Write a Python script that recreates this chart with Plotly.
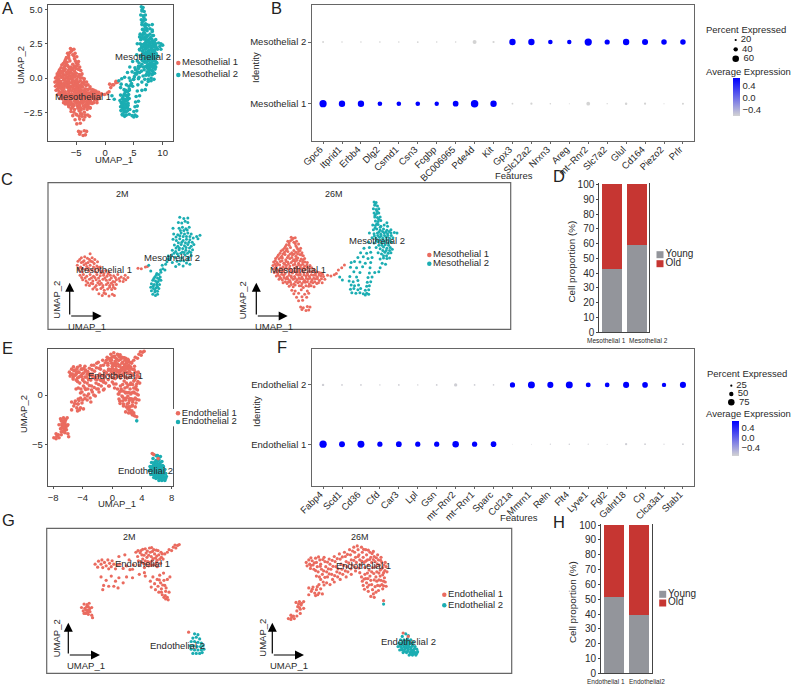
import plotly.graph_objects as go

W, H = 792, 685
RED = "#EA6B5F"
TEAL = "#1BADB2"
GREY_BAR = "#93959B"
RED_BAR = "#C63632"
INK = "#2a2a2a"
FRAME = "#666666"
FONT = "Liberation Sans"

# ---- UMAP cell coordinates, mesothelial ----
meso1_2m = [(-6.3,0.8),(-7.6,0.45),(-7.1,0.55),(-6.7,0.4),(-6.0,0.45),(-5.6,0.3),(-8.1,0.15),(-7.6,0.05),(-7.2,0.2),(-6.6,0.05),(-6.2,0.15),(-5.7,-0.05),(-5.2,0.1),
(-8.2,-0.2),(-7.7,-0.35),(-7.2,-0.15),(-6.8,-0.3),(-6.3,-0.2),(-5.8,-0.35),(-5.3,-0.25),(-4.8,-0.35),(-8.0,-0.6),(-7.5,-0.75),(-7.0,-0.55),(-6.5,-0.7),(-6.0,-0.6),(-5.5,-0.75),(-5.0,-0.6),(-4.5,-0.7),(-4.0,-0.65),(-3.5,-0.8),
(-7.8,-1.05),(-7.3,-1.0),(-6.8,-1.15),(-6.3,-1.0),(-5.8,-1.15),(-5.3,-1.0),(-4.8,-1.1),(-4.3,-1.05),(-3.8,-1.15),(-3.3,-1.05),(-2.8,-1.1),(-2.2,-1.0),(-1.7,-1.2),(-1.1,-1.05),(-0.7,-1.25),
(-7.4,-1.45),(-6.9,-1.55),(-6.4,-1.4),(-5.9,-1.55),(-5.4,-1.45),(-4.9,-1.55),(-4.4,-1.4),(-3.9,-1.5),(-3.4,-1.45),(-2.9,-1.6),(-2.4,-1.45),(-1.9,-1.55),(-1.4,-1.6),(-1.0,-1.45),
(-6.9,-1.9),(-6.4,-1.95),(-5.9,-1.8),(-5.4,-1.95),(-4.9,-1.85),(-4.4,-1.95),(-3.9,-1.85),(-3.4,-1.95),(-2.9,-1.9),(-2.4,-1.85),
(-5.9,-2.25),(-5.3,-2.3),(-4.7,-2.2),(-4.2,-2.35),(-3.7,-2.25),(-3.1,-2.3),(-2.6,-2.2),
(-5.0,-2.65),(-4.5,-2.8),(-4.0,-2.65),(-3.5,-2.85),(-3.0,-2.7),(-2.7,-2.8),(0.8,-0.45),(1.3,-0.5),(1.9,-0.35),(2.2,-0.3),
(-7.85,0.3),(-7.35,0.1),(-6.4,0.3),(-6.9,-0.05),(-5.95,0.1),(-7.95,-0.45),(-7.45,-0.5),(-6.55,-0.45),(-5.55,-0.5),(-5.1,-0.4),(-4.25,-0.9),(-4.7,-0.85),(-3.65,-0.95),(-7.55,-1.25),(-7.05,-1.3),(-6.1,-1.3),(-5.6,-1.25),(-5.05,-1.3),(-4.1,-1.3),(-3.15,-1.3),(-2.55,-1.25),(-2.0,-1.35),(-1.3,-1.35),(-6.65,-1.7),(-6.15,-1.75),(-5.15,-1.7),(-4.65,-1.75),(-3.65,-1.7),(-3.15,-1.75),(-2.65,-1.65),(-5.6,-2.1),(-4.45,-2.1),(-3.4,-2.1),(-2.85,-2.1),(-4.25,-2.6)]

meso1_26m = [(-6.0,2.15),(-5.7,2.05),(-5.4,2.1),(-6.5,1.8),(-6.1,1.85),(-5.6,1.7),(-5.2,1.8),(-6.7,1.5),(-6.3,1.45),(-5.3,1.4),(-4.9,1.55),(-7.0,1.2),(-6.6,1.15),(-6.1,1.25),(-5.0,1.1),(-4.6,1.2),
(-7.5,0.95),(-7.0,0.85),(-6.5,0.9),(-5.9,0.8),(-5.3,0.85),(-4.9,0.9),(-4.4,0.8),(-7.9,0.6),(-7.4,0.5),(-6.9,0.65),(-6.4,0.55),(-5.8,0.6),(-5.3,0.5),(-4.7,0.65),(-4.2,0.55),
(-8.3,0.3),(-7.8,0.25),(-7.3,0.35),(-6.8,0.2),(-6.2,0.3),(-5.6,0.2),(-5.0,0.35),(-4.5,0.25),(-4.0,0.3),
(-8.6,0.0),(-8.1,-0.05),(-7.6,0.05),(-7.1,-0.1),(-6.5,0.0),(-6.0,-0.05),(-5.4,0.05),(-4.9,-0.1),(-4.3,0.0),(-3.6,-0.05),
(-8.7,-0.3),(-8.2,-0.35),(-7.7,-0.25),(-7.2,-0.4),(-6.7,-0.3),(-6.2,-0.35),(-5.7,-0.25),(-5.2,-0.4),(-4.6,-0.3),(-4.0,-0.35),(-3.2,-0.3),
(-8.6,-0.6),(-8.1,-0.65),(-7.6,-0.55),(-7.1,-0.7),(-6.5,-0.6),(-6.0,-0.65),(-5.5,-0.55),(-4.9,-0.7),(-4.4,-0.6),(-3.9,-0.65),(-3.3,-0.55),(-2.6,-0.65),
(-8.5,-0.9),(-8.0,-0.95),(-7.4,-0.85),(-6.9,-1.0),(-6.3,-0.9),(-5.8,-0.95),(-5.2,-0.85),(-4.7,-1.0),(-4.1,-0.9),(-3.6,-0.95),(-3.0,-0.85),(-2.4,-1.0),(-1.9,-0.9),
(-8.2,-1.2),(-7.7,-1.25),(-7.1,-1.15),(-6.6,-1.3),(-6.0,-1.2),(-5.5,-1.25),(-4.9,-1.15),(-4.4,-1.3),(-3.8,-1.2),(-3.3,-1.25),(-2.7,-1.15),(-2.1,-1.3),(-1.6,-1.2),(-1.2,-1.25),(-0.6,-1.15),(-0.1,-1.2),(0.4,-1.1),
(-7.8,-1.5),(-7.3,-1.55),(-6.8,-1.45),(-6.2,-1.6),(-5.7,-1.5),(-5.1,-1.55),(-4.6,-1.45),(-4.0,-1.6),(-3.5,-1.5),(-2.9,-1.55),(-2.4,-1.45),(-1.8,-1.6),(-1.0,-1.5),
(-7.2,-1.8),(-6.6,-1.85),(-6.1,-1.75),(-5.6,-1.9),(-5.0,-1.8),(-4.4,-1.85),(-3.9,-1.75),(-3.3,-1.9),(-2.8,-1.8),(-2.2,-1.85),(-1.4,-1.8),
(-6.3,-2.1),(-5.7,-2.15),(-4.8,-2.05),(-4.2,-2.2),(-3.4,-2.1),(-2.6,-2.15),(-5.9,-2.45),(-5.4,-2.5),(-4.5,-2.4),(-3.6,-2.5),
(-5.6,-2.75),(-4.9,-2.7),(-4.0,-2.8),(-3.4,-2.7),(-5.2,-3.05),(-4.4,-3.0),(-3.7,-3.05),(-4.9,-3.35),(-4.3,-3.3),
(-4.6,-3.9),(-4.2,-3.95),(-3.6,-3.85),(-3.2,-3.9),(-4.4,-4.1),(-3.8,-4.2),(-3.4,-4.15),
(0.7,-1.0),(1.0,-0.7),(1.5,-0.5),(1.9,-0.25),
(-5.85,1.95),(-6.3,1.65),(-5.4,1.6),(-6.85,1.35),(-5.15,1.25),(-7.25,1.05),(-6.75,1.0),(-5.6,1.0),(-4.7,1.0),(-7.65,0.75),(-7.2,0.7),(-6.15,0.7),(-5.55,0.7),(-5.05,0.7),(-4.45,0.6),(-8.05,0.45),(-7.55,0.4),(-6.55,0.4),(-5.9,0.4),(-5.25,0.3),(-4.2,0.2),(-8.35,0.1),(-7.35,0.1),(-6.75,0.05),(-5.75,0.1),(-5.15,0.15),(-4.65,0.1),(-3.95,0.0),(-8.4,-0.2),(-7.95,-0.2),(-6.95,-0.2),(-6.4,-0.15),(-5.45,-0.2),(-4.9,-0.25),(-4.3,-0.2),(-3.65,-0.25),(-8.35,-0.5),(-7.4,-0.55),(-6.8,-0.5),(-6.25,-0.55),(-5.2,-0.55),(-4.65,-0.5),(-4.15,-0.5),(-3.6,-0.45),(-2.95,-0.5),(-8.25,-0.8),(-7.75,-0.75),(-7.15,-0.8),(-6.05,-0.8),(-5.5,-0.8),(-4.95,-0.85),(-4.35,-0.8),(-3.3,-0.8),(-2.7,-0.8),(-2.2,-0.85),(-1.6,-0.95),(-7.95,-1.1),(-7.4,-1.05),(-6.3,-1.15),(-5.2,-1.05),(-4.65,-1.1),(-4.1,-1.1),(-3.55,-1.1),(-3.0,-1.1),(-2.4,-1.15),(-1.85,-1.1),(-1.35,-1.05),(-7.55,-1.4),(-7.05,-1.35),(-6.5,-1.45),(-5.95,-1.35),(-5.4,-1.4),(-4.85,-1.4),(-4.3,-1.45),(-3.75,-1.4),(-3.2,-1.4),(-2.65,-1.4),(-2.1,-1.45),(-1.5,-1.45),(-6.85,-1.7),(-6.4,-1.7),(-5.35,-1.7),(-4.75,-1.7),(-4.15,-1.7),(-3.6,-1.7),(-3.05,-1.7),(-2.5,-1.7),(-1.95,-1.8),(-6.0,-1.95),(-5.4,-2.0),(-4.5,-2.05),(-3.8,-2.05),(-3.05,-2.05)]

meso2_2m = [(3.6,-0.9),(3.9,-1.0),(3.3,-1.2),(3.7,-1.3),(4.1,-1.2),(3.0,-1.5),(3.4,-1.55),(3.8,-1.6),(4.2,-1.5),(2.8,-1.8),(3.2,-1.85),(3.6,-1.9),(4.0,-1.85),(2.7,-2.1),(3.1,-2.2),(3.5,-2.15),(3.9,-2.2),(2.8,-2.4),(3.3,-2.5),(3.7,-2.45),(3.0,-2.7),(3.4,-2.8),(3.7,-2.7),
(4.2,-0.8),(4.5,-0.5),(4.8,-0.6),(4.4,-0.2),(4.9,-0.1),(2.7,-0.7),(2.4,-0.2),
(5.1,0.1),(5.5,0.3),(5.9,0.05),(6.4,-0.3),(6.9,-0.1),(7.5,-0.25),(8.0,0.0),(8.5,-0.1),(5.3,0.6),(5.8,0.7),(6.3,0.5),(6.8,0.6),(7.3,0.45),(7.8,0.7),(8.3,0.5),(8.7,0.65),
(5.9,1.1),(6.4,1.0),(6.9,1.15),(7.4,0.95),(7.9,1.1),(8.4,1.0),(8.9,1.15),(6.2,1.55),(6.7,1.45),(7.2,1.6),(7.7,1.5),(8.2,1.6),(8.7,1.45),(9.1,1.6),
(6.0,2.05),(6.5,1.95),(7.0,2.1),(7.5,1.95),(8.0,2.05),(8.5,2.0),(9.0,2.15),(9.5,2.3),(10.0,2.4),(9.7,2.1),
(6.1,2.5),(6.7,2.45),(7.2,2.6),(7.7,2.5),(8.2,2.6),(8.7,2.5),(6.0,3.0),(6.9,3.0),(7.4,3.1),(7.9,2.95),(8.4,3.1),(6.8,3.5),(7.3,3.45),(7.8,3.6),(8.2,3.5),(7.0,3.95),(7.6,3.85),(8.2,3.9),
(3.5,-1.05),(3.15,-1.35),(3.95,-1.4),(3.6,-1.7),(3.05,-2.0),(3.7,-2.05),(3.35,-2.35),(4.15,-0.6),(5.2,0.35),(5.65,0.45),(6.6,0.15),(7.1,0.2),(7.6,0.2),(8.2,0.25),(6.15,0.85),(6.65,0.8),(7.15,0.85),(7.65,0.9),(8.15,0.85),(8.65,0.9),(6.45,1.3),(6.95,1.3),(7.45,1.25),(7.95,1.35),(8.45,1.3),(6.8,1.75),(7.3,1.8),(7.85,1.75),(8.35,1.8),(8.85,1.8),(6.45,2.25),(7.0,2.35),(7.5,2.3),(8.0,2.3),(8.5,2.3),(7.1,2.8),(7.6,2.8),(8.1,2.85)]

meso2_26m = [(6.3,5.2),(6.6,5.15),(6.4,4.9),(6.8,4.85),(6.2,4.6),(6.6,4.55),(7.0,4.6),(6.3,4.25),(6.7,4.2),(7.0,4.25),(6.4,3.9),(6.8,3.85),(7.2,3.9),(6.5,3.55),(6.9,3.5),(7.3,3.6),(8.2,3.4),
(6.1,3.2),(6.5,3.15),(6.9,3.25),(7.3,3.1),(7.8,3.2),(8.3,3.1),(6.2,2.8),(6.7,2.85),(7.2,2.75),(7.7,2.85),(8.2,2.75),(8.8,2.8),(5.6,2.5),(6.3,2.45),(6.8,2.5),(7.3,2.4),(7.8,2.5),(8.3,2.45),(8.8,2.5),(9.3,2.55),(9.7,2.5),
(6.0,2.1),(6.6,2.05),(7.1,2.15),(7.6,2.05),(8.1,2.15),(8.6,2.05),(9.1,2.1),(5.5,1.7),(6.3,1.65),(6.9,1.75),(7.4,1.65),(7.9,1.7),(8.4,1.65),(8.9,1.7),
(4.8,1.2),(5.6,1.25),(6.6,1.25),(7.2,1.15),(7.7,1.3),(8.2,1.2),(8.7,1.25),(9.0,1.1),(4.3,0.8),(5.2,0.75),(5.8,0.85),(6.9,0.8),(7.4,0.7),(7.9,0.85),(8.4,0.75),(8.8,0.8),
(3.9,0.4),(4.7,0.45),(5.4,0.3),(6.0,0.4),(7.2,0.25),(7.7,0.35),(8.2,0.3),(8.6,0.35),(2.9,-0.05),(3.4,0.05),(4.2,0.0),(5.0,-0.1),(5.8,-0.05),(7.5,-0.1),(8.0,-0.2),
(2.8,-0.45),(3.7,-0.5),(4.6,-0.4),(5.7,-0.5),(7.2,-0.5),(7.0,-0.85),(3.3,-0.85),(4.2,-0.9),(5.6,-0.95),(6.4,-0.9),(1.2,-1.3),(1.6,-1.55),
(2.7,-1.25),(3.7,-1.3),(5.4,-1.35),(6.0,-1.3),(2.6,-1.65),(3.2,-1.7),(3.9,-1.6),(5.3,-1.75),(5.8,-1.7),(2.9,-2.0),(3.4,-2.05),(4.0,-2.0),(5.2,-2.1),(5.6,-2.05),
(2.8,-2.35),(3.3,-2.3),(3.9,-2.4),(4.3,-2.3),(5.0,-2.45),(5.5,-2.4),(3.0,-2.65),(3.6,-2.7),(4.2,-2.65),(4.7,-2.75),(5.2,-2.7),(5.5,-2.8),(5.0,-2.85),
(6.45,5.0),(6.75,4.4),(6.45,4.05),(7.0,3.7),(6.7,3.3),(7.2,3.0),(6.45,2.95),(7.05,2.6),(7.55,2.65),(8.05,2.6),(8.55,2.65),(6.35,2.25),(6.85,2.3),(7.35,2.25),(7.85,2.3),(8.35,2.3),(8.85,2.3),(6.65,1.85),(7.15,1.9),(7.65,1.85),(8.15,1.9),(8.65,1.85),(7.0,1.45),(7.45,1.45),(7.95,1.5),(8.45,1.45),(7.6,1.0),(8.1,1.0),(8.6,1.0),(7.7,0.55),(8.15,0.55)]

# ---- UMAP cell coordinates, endothelial ----
endo1_2m = [(-5.6,2.1),(-5.2,2.45),(-4.9,2.1),(-4.8,2.6),(-4.5,2.3),(-4.3,1.9),(-4.1,2.6),(-3.9,2.2),(-3.7,1.8),(-3.6,2.5),(-3.4,2.1),(-3.2,1.55),(-3.0,2.0),(-5.3,1.75),(-4.7,1.7),(-4.0,1.55),
(-2.7,2.1),(-2.3,1.6),(-1.9,1.9),(-1.5,1.45),(-1.1,2.0),(-2.8,3.0),(-1.6,2.6),(-2.1,3.2),(-1.2,1.5),
(-0.8,3.5),(-0.6,3.0),(-0.5,2.5),(-0.4,2.0),(-0.2,3.7),(-0.1,3.2),(0.0,2.7),(0.1,2.2),(0.2,1.7),(0.3,3.9),(0.4,3.4),(0.5,2.9),(0.6,2.4),(0.7,1.9),(0.8,4.0),(0.9,3.5),(1.0,3.0),(1.1,2.5),(1.2,2.0),(1.3,3.8),(1.4,3.3),(1.5,2.8),(1.6,2.3),(1.7,1.8),(1.8,3.7),(1.9,3.2),(2.0,2.7),(2.1,2.2),(2.3,3.3),(2.4,2.7),
(2.6,3.3),(2.9,3.5),(3.1,3.8),(3.4,3.7),(3.6,4.1),(3.9,4.0),(4.1,4.3),(4.3,4.4),(3.8,4.35),
(-4.9,0.6),(-4.3,0.2),(-3.7,0.7),(-3.2,0.1),(-2.8,0.5),(-2.3,-0.1),(-1.9,0.6),(-4.0,-0.5),(-3.4,-0.5),(-2.9,-0.7),(-4.7,-0.9),(-4.6,-0.4),(-1.2,0.5),(-0.4,0.9),(0.2,1.1),(0.3,0.7),
(0.9,0.1),(1.0,-0.6),(1.2,0.6),(1.4,-0.2),(1.5,-0.9),(1.7,0.3),(1.8,-0.5),(1.9,-1.2),(2.0,0.8),(2.1,-0.1),(2.2,-0.8),(2.3,-1.5),(2.5,0.2),(2.6,-0.4),(2.7,-1.1),(2.9,-1.8),(2.7,-2.0),(3.0,-2.1),(2.5,-1.8),(3.1,-1.2),(3.2,0.6),(2.9,0.3),
(-7.2,-3.0),(-7.0,-3.4),(-6.9,-2.6),(-6.8,-3.1),(-6.7,-3.7),(-6.6,-2.9),(-6.5,-3.3),(-6.4,-3.8),(-6.3,-2.5),(-6.2,-3.1),(-6.2,-3.5),(-6.0,-3.9),(-5.9,-4.2),(-6.0,-3.0),(-6.7,-3.3),(-6.4,-2.9),
(-0.3,3.45),(0.15,3.15),(0.55,3.65),(0.7,3.15),(1.15,3.6),(1.2,2.75),(0.85,2.3),(0.3,2.5),(1.65,3.05),(1.7,2.55),(2.15,3.5),(2.2,2.9),(-0.55,3.7),(1.05,4.05),(0.0,3.85),(1.6,3.75),(-0.15,2.35),(0.4,2.1),(0.95,1.95),(1.45,2.05),(2.45,1.05),(2.2,-1.2),(2.65,-1.6),(2.35,-0.35),(1.95,0.25),(2.75,-0.7),(-6.5,-3.55),(-6.9,-3.7),(-6.3,-3.3),(-6.55,-2.65)]

endo1_26m = [(-5.8,2.3),(-5.7,1.9),(-5.5,2.6),(-5.4,2.1),(-5.3,1.6),(-5.1,2.5),(-5.0,2.0),(-4.9,1.5),(-4.7,2.8),(-4.6,2.3),(-4.5,1.8),(-4.4,1.2),(-4.2,2.6),(-4.1,2.1),(-4.0,1.5),(-3.9,0.9),(-3.7,2.9),(-3.6,2.4),(-3.5,1.8),(-3.4,1.2),(-3.3,0.6),(-3.1,2.7),(-3.0,2.1),(-2.9,1.5),(-2.8,0.9),(-2.7,0.3),(-2.5,3.0),(-2.4,2.4),(-2.3,1.8),(-2.2,1.2),(-2.1,0.6),(-1.9,3.3),(-1.8,2.7),(-1.7,2.1),(-1.6,1.5),(-1.5,0.9),(-1.3,3.5),(-1.2,3.0),(-1.1,2.4),(-1.0,1.8),(-0.9,1.2),(-0.7,3.8),(-0.6,3.2),(-0.5,2.6),(-0.4,2.0),(-0.2,4.1),(-0.1,3.5),(0.0,2.9),(0.1,2.3),(0.3,3.8),(0.4,3.2),(0.5,2.6),(0.6,2.0),(0.7,4.1),(0.8,3.5),(0.9,2.9),(1.0,2.3),(1.1,1.7),(1.2,3.8),(1.3,3.2),(1.4,2.6),(1.5,2.0),(1.6,1.4),(1.7,3.5),(1.8,2.9),(1.9,2.3),(2.0,1.7),(2.1,3.6),(2.2,3.0),(2.3,2.4),(2.4,1.8),(2.5,1.2),(2.6,3.2),(2.7,2.6),(2.8,2.0),(2.9,1.4),(3.0,2.9),(3.1,2.3),(3.2,1.7),(3.3,1.1),(3.5,2.3),(3.6,1.8),(3.7,1.2),
(-4.6,0.7),(-4.1,0.3),(-3.8,0.0),(-3.4,-0.1),(-4.3,-0.3),(-3.0,-0.3),(-2.5,0.0),(-1.8,0.3),(-1.1,0.6),(-0.5,0.9),(0.0,1.3),(0.5,1.1),
(-5.5,-0.7),(-5.2,-1.1),(-5.0,-0.6),(-4.8,-1.3),(-4.6,-0.9),(-4.3,-1.3),(-4.1,-0.8),(-3.9,-1.4),(-5.5,-1.5),(-4.7,-1.6),
(0.7,0.6),(0.8,0.1),(0.9,-0.4),(1.1,0.9),(1.2,0.4),(1.3,-0.1),(1.4,-0.6),(1.5,-1.1),(1.7,0.7),(1.8,0.2),(1.9,-0.3),(2.0,-0.9),(2.1,-1.4),(2.2,-1.8),(2.4,0.6),(2.5,0.1),(2.6,-0.4),(2.7,-1.0),(2.9,0.7),(3.0,0.2),(3.1,-0.3),(3.2,-0.8),(3.4,0.5),(3.5,0.0),(3.6,-0.5),(1.8,-1.7),(3.3,-2.2),
(-7.0,-2.4),(-6.6,-2.3),(-6.8,-2.9),(-6.4,-2.7),(-6.1,-2.3),(-6.5,-3.2),(-6.1,-3.1),(-6.9,-3.4),(-6.5,-3.7),(-7.6,-3.9),(-7.3,-4.0),(-7.9,-4.3),(-7.6,-4.4),(-7.2,-4.3),(-6.9,-4.0),
(-5.25,2.85),(-4.85,2.25),(-4.35,2.95),(-3.85,2.65),(-3.3,2.35),(-2.75,2.55),(-2.15,2.75),(-1.55,2.95),(-0.95,3.25),(-0.35,3.65),(0.2,4.25),(0.95,3.85),(1.5,3.75),(1.95,3.35),(2.45,2.85),(2.95,2.55),(3.35,2.0),
(-5.25,1.95),(-4.7,1.35),(-4.15,1.85),(-3.75,1.3),(-3.2,1.55),(-2.65,1.85),(-2.05,1.55),(-1.4,1.95),(-0.8,2.25),(-0.2,2.55),(0.3,3.0),(0.75,2.45),(1.2,2.45),(1.65,2.65),(2.1,2.65),(2.55,2.15),(3.0,1.5),(3.45,1.35),
(-4.25,0.6),(-3.6,0.55),(-3.1,0.95),(-2.45,0.75),(-1.85,1.05),(-1.2,1.3),(-0.55,1.55),(-0.05,1.75),(0.4,1.65),(-5.1,-0.85),(-4.5,-0.55),(-4.45,-1.5),(-3.7,-0.35),
(1.0,0.35),(1.45,0.4),(1.05,-0.85),(1.6,-0.35),(2.2,0.25),(2.3,-0.55),(2.4,-1.2),(2.75,0.25),(2.85,-0.45),(3.3,0.1),(3.3,-0.45),(2.15,1.0),(2.75,1.05),(3.2,0.85),(1.4,1.05),(1.9,1.2),(-6.7,-2.6),(-6.35,-2.5),(-6.6,-3.0),(-7.5,-4.15)]

endo2_2m = [(6.1,-6.1),(6.5,-6.2),(5.9,-6.6),(6.3,-6.5),(6.7,-6.7),(5.7,-7.0),(6.1,-7.0),(6.5,-7.1),(6.9,-7.2),(5.6,-7.5),(6.0,-7.5),(6.4,-7.6),(6.8,-7.6),(7.1,-7.5),(5.7,-7.9),(6.1,-8.0),(6.5,-8.0),(6.9,-8.0),(7.2,-7.9),(5.9,-8.4),(6.3,-8.4),(6.7,-8.4),(7.0,-8.3)]

endo2_26m = [(5.5,-6.4),(5.9,-6.1),(6.2,-6.3),(5.3,-6.8),(5.7,-6.8),(6.1,-6.7),(6.5,-6.8),(5.1,-7.2),(5.4,-7.2),(5.8,-7.2),(6.1,-7.1),(6.4,-7.2),(6.8,-7.1),(5.0,-7.6),(5.3,-7.6),(5.7,-7.6),(6.0,-7.5),(6.3,-7.6),(6.7,-7.5),(7.0,-7.6),(5.2,-8.0),(5.5,-8.0),(5.8,-7.9),(6.2,-8.0),(6.5,-7.9),(6.8,-8.0),(7.2,-7.9),(5.6,-8.3),(6.0,-8.3),(6.4,-8.3),(6.7,-8.3),(7.0,-8.3),(7.3,-8.2),(6.3,-8.6),(6.7,-8.6),(7.1,-8.6),(3.3,-2.6),
(5.6,-7.0),(5.95,-6.95),(6.3,-7.0),(5.25,-7.4),(5.55,-7.4),(5.9,-7.35),(6.25,-7.35),(6.6,-7.3),(5.45,-7.8),(5.9,-7.75),(6.15,-7.8),(6.55,-7.7),(6.95,-7.8),(5.75,-8.15),(6.1,-8.15),(6.55,-8.15),(6.85,-8.15),(7.2,-8.4),(6.5,-8.5),(6.9,-8.45)]

endo_red_in_teal_2m = [(5.4,-5.9)]
endo_red_in_teal_26m = [(5.6,-6.0),(6.2,-6.4)]

# ---- Dot plots ----
meso_genes = ["Gpc6","Itprid1","Erbb4","Dlg2","Csmd1","Csn3","Fcgbp","BC006965","Pde4d","Kit","Gpx3","Slc12a2","Nrxn3","Areg","mt\u2212Rnr2","Slc7a2","Glul","Cd164","Piezo2","Prlr"]
meso_groups = ["Mesothelial 1","Mesothelial 2"]
meso1_pct = [66,58,58,42,42,42,40,52,68,58,16,20,14,9,34,12,22,20,10,18]
meso2_pct = [17,14,14,15,14,16,14,14,36,20,58,58,42,40,66,47,58,55,50,50]
meso1_avg = [0.65]*10 + [-0.65]*10
meso2_avg = [-0.65]*10 + [0.65]*10

endo_genes = ["Fabp4","Scd1","Cd36","Cfd","Car3","Lpl","Gsn","mt\u2212Rnr2","mt\u2212Rnr1","Sparc","Ccl21a","Mmrn1","Reln","Flt4","Lyve1","Fgl2","Galnt18","Cp","Clca3a1","Stab1"]
endo_groups = ["Endothelial 1","Endothelial 2"]
endo1_pct = [84,68,80,60,66,60,60,75,60,65,9,11,14,17,14,12,26,20,13,20]
endo2_pct = [28,20,20,17,20,17,20,38,20,19,60,80,70,80,57,54,70,65,50,70]
endo1_avg = [0.65]*10 + [-0.7]*10
endo2_avg = [-0.7]*10 + [0.65]*10

# ---- Proportion bars ----
meso_bar_labels = ["Mesothelial 1","Mesothelial 2"]
meso_young = [42.5,59]
meso_old = [57.5,41]
endo_bar_labels = ["Endothelial 1","Endothelial2"]
endo_young = [51.5,39.5]
endo_old = [48.5,60.5]

size_legend_meso = [20,40,60]
size_legend_endo = [25,50,75]

fig = go.Figure()
layout = {}
annots = []
shapes = []
count = [0]


def new_axes(x0, x1, ytop, ybot, xopts, yopts):
    count[0] += 1
    n = count[0]
    s = "" if n == 1 else str(n)
    xo = dict(domain=[x0 / W, x1 / W], anchor=f"y{s}", zeroline=False, showgrid=False)
    yo = dict(domain=[1 - ybot / H, 1 - ytop / H], anchor=f"x{s}", zeroline=False, showgrid=False)
    xo.update(xopts)
    yo.update(yopts)
    layout[f"xaxis{s}"] = xo
    layout[f"yaxis{s}"] = yo
    return f"x{s}", f"y{s}"


def hidden(rng):
    return dict(visible=False, range=rng)


def txt(x, y, text, size=9.5, rot=0, color=INK, anchor="center"):
    annots.append(dict(x=x / W, y=1 - y / H, xref="paper", yref="paper", text=text, showarrow=False,
                       xanchor=anchor, yanchor="middle", textangle=rot, font=dict(size=size, color=color, family=FONT)))


def cells(pts, xa, ya, color, size):
    fig.add_trace(go.Scatter(x=[p[0] for p in pts], y=[p[1] for p in pts], mode="markers", xaxis=xa, yaxis=ya,
                             showlegend=False, hoverinfo="skip", cliponaxis=False,
                             marker=dict(color=color, size=size, line=dict(width=0))))


def umap_axes(dtick_x, dtick_y, xr, yr, fmt):
    ax = dict(range=xr, tickvals=dtick_x, showline=True, mirror=True, linecolor="#555555", linewidth=1, ticks="outside",
              ticklen=2.5, tickcolor="#555555", tickfont=dict(size=9.5, color=INK, family=FONT))
    ay = dict(range=yr, tickvals=dtick_y, showline=True, mirror=True, linecolor="#555555", linewidth=1, ticks="outside",
              ticklen=2.5, tickcolor="#555555", tickfont=dict(size=9.5, color=INK, family=FONT), tickformat=fmt)
    return ax, ay


def key(cx, ys, labels, colors, symbol, msize, fsize, pad=""):
    step = ys[1] - ys[0]
    xa, ya = new_axes(cx - 5, cx + 5, ys[0] - step / 2, ys[-1] + step / 2, hidden([-1, 1]),
                      dict(visible=False, type="category", range=[len(ys) - 0.5, -0.5]))
    fig.add_trace(go.Scatter(x=[0] * len(labels), y=labels, mode="markers+text", xaxis=xa, yaxis=ya, showlegend=False,
                             hoverinfo="skip", cliponaxis=False, text=[pad + str(l) for l in labels],
                             textposition="middle right", textfont=dict(size=fsize, color=INK, family=FONT),
                             marker=dict(color=colors, size=msize, symbol=symbol, opacity=1, line=dict(width=0))))


def dotplot(top, bot, yr, genes, groups, pct_low, pct_high, avg_low, avg_high, scale, cb_top, cb_len, cb_x, cb_vmin, cb_vmax):
    tf = dict(size=9.5, color=INK, family=FONT)
    xa, ya = new_axes(311.7, 694.3, top, bot,
                      dict(type="category", categoryorder="array", categoryarray=genes, range=[-0.6, 19.6], tickangle=-45,
                           ticklabelstandoff=-4, ticklabelshift=-3,
                           showline=True, mirror=True, linecolor=FRAME, linewidth=1.2, ticks="outside", ticklen=2.5, tickcolor=FRAME, tickfont=tf, dtick=1),
                      dict(type="category", categoryorder="array", categoryarray=groups, range=yr,
                           showline=True, mirror=True, linecolor=FRAME, linewidth=1.2, ticks="outside", ticklen=2.5, tickcolor=FRAME, tickfont=tf))
    cs = [[0, "#D3D3D3"], [1, "#0000FF"]]
    for i, (group, pct, avg) in enumerate(((groups[0], pct_low, avg_low), (groups[1], pct_high, avg_high))):
        mk = dict(size=[p * scale for p in pct], color=avg, colorscale=cs, cmin=cb_vmin, cmax=cb_vmax, opacity=1, line=dict(width=0))
        if i == 0:
            mk["showscale"] = True
            mk["colorbar"] = dict(x=cb_x / W, xanchor="left", xref="paper", y=1 - cb_top / H, yanchor="top", yref="paper",
                                  len=cb_len, lenmode="pixels", thickness=7, thicknessmode="pixels", xpad=0, ypad=0,
                                  outlinewidth=0, tickvals=[-0.4, 0.0, 0.4], ticktext=["\u22120.4", "0.0", "0.4"], ticks="",
                                  tickfont=dict(size=9.5, color=INK, family=FONT))
        fig.add_trace(go.Scatter(x=genes, y=[group] * len(genes), mode="markers", xaxis=xa, yaxis=ya, showlegend=False,
                                 hoverinfo="skip", cliponaxis=False, marker=mk))


def bars(x0, x1, top, bot, labels, young, old, label_xs, label_y):
    xa, ya = new_axes(x0, x1, top, bot,
                      dict(type="category", categoryorder="array", categoryarray=labels, range=[-0.5, 1.5], showline=True, linecolor="#444444", linewidth=1,
                           ticks="", showticklabels=False),
                      dict(range=[0, 101], tickvals=list(range(0, 101, 10)), showline=True, mirror=True, linecolor="#444444", linewidth=1,
                           ticks="outside", ticklen=2, tickcolor="#444444", tickfont=dict(size=10, color=INK, family=FONT)))
    fig.add_trace(go.Bar(x=labels, y=young, xaxis=xa, yaxis=ya, marker=dict(color=GREY_BAR, line=dict(width=0)), width=0.79, showlegend=False, hoverinfo="skip"))
    fig.add_trace(go.Bar(x=labels, y=old, xaxis=xa, yaxis=ya, marker=dict(color=RED_BAR, line=dict(width=0)), width=0.79, showlegend=False, hoverinfo="skip"))
    for lab, lx in zip(labels, label_xs):
        txt(lx, label_y, lab, 6.5)


def arrows(ox, oy, tipx, tipy):
    for hx, hy in ((tipx, oy), (ox, tipy)):
        annots.append(dict(x=hx / W, y=1 - hy / H, xref="paper", yref="paper", ax=ox - hx, ay=oy - hy, axref="pixel", ayref="pixel",
                           showarrow=True, arrowhead=2, arrowsize=1.5, arrowwidth=1.2, arrowcolor="#000000", text=""))


def frame(x0, y0, x1, y1):
    shapes.append(dict(type="rect", xref="paper", yref="paper", x0=x0 / W, x1=x1 / W, y0=1 - y0 / H, y1=1 - y1 / H,
                       line=dict(color=FRAME, width=1.2), fillcolor="rgba(0,0,0,0)"))


# Panel A
ax, ay = umap_axes([-5, 0, 5, 10], [-2.5, 0, 2.5, 5], [-9.9, 11.8], [-4.6, 5.33], ".1f")
xa, ya = new_axes(48, 173, 5, 141, ax, ay)
cells(meso1_2m + meso1_26m, xa, ya, RED, 3.6)
cells(meso2_2m + meso2_26m, xa, ya, TEAL, 3.6)
txt(83.3, 96.7, "Mesothelial 1")
txt(143.3, 56.7, "Mesothelial 2")
txt(114, 159, "UMAP_1")
txt(20, 65, "UMAP_2", rot=-90)
key(178.3, [63, 75], meso_bar_labels, [RED, TEAL], "circle", 4.5, 9.5)

# Panel B
dotplot(5, 140.7, [-0.6, 1.6], meso_genes, meso_groups, meso1_pct, meso2_pct, meso1_avg, meso2_avg, 0.11, 78.3, 37.7, 732.7, -0.63, 0.65)
txt(514, 176, "Features", 9.5)
txt(255, 68, "Identity", 9.5, rot=-90)
txt(746, 30, "Percent Expressed", 9.5)
txt(748, 71, "Average Expression", 9.5)
key(735.7, [40, 49.3, 58.7], size_legend_meso, "#000000", "circle", [s * 0.11 for s in size_legend_meso], 9.5, pad=" ")

# Panel C
frame(48, 182.7, 510.7, 329.3)
xa, ya = new_axes(55, 215, 190, 325, hidden([-11.51, 12.23]), hidden([-5.36, 6.31]))
cells(meso1_2m, xa, ya, RED, 3)
cells(meso2_2m, xa, ya, TEAL, 3)
xa, ya = new_axes(265, 415, 190, 325, hidden([-9.88, 12.37]), hidden([-5.45, 6.23]))
cells(meso1_26m, xa, ya, RED, 3)
cells(meso2_26m, xa, ya, TEAL, 3)
txt(122.7, 194, "2M", 9)
txt(334, 194, "26M", 9)
txt(104, 269.3, "Mesothelial 1")
txt(172.3, 257.7, "Mesothelial 2")
txt(297.7, 269.3, "Mesothelial 1")
txt(376.7, 240.7, "Mesothelial 2")
arrows(69.7, 316, 101.7, 282.7)
arrows(256.3, 316, 287.7, 282.7)
txt(86.7, 326, "UMAP_1")
txt(55.7, 300, "UMAP_2", rot=-90)
txt(274.3, 326, "UMAP_1")
txt(242.3, 300, "UMAP_2", rot=-90)
key(429.3, [255, 263.7], meso_bar_labels, [RED, TEAL], "circle", 4.5, 9.5)

# Panel D
bars(599.3, 649.3, 183, 332.3, meso_bar_labels, meso_young, meso_old, [606.5, 648], 340.7)
txt(570.5, 262, "Cell proportion (%)", 9.8, rot=-90)
key(660, [254.7, 263.7], ["Young", "Old"], [GREY_BAR, RED_BAR], "square", 7, 10)

# Panel E
ax, ay = umap_axes([-8, -4, 0, 4, 8], [-5, 0], [-8.65, 8.24], [-9.13, 4.6], "")
xa, ya = new_axes(48.3, 173.3, 349.3, 485.7, ax, ay)
cells(endo1_2m + endo1_26m, xa, ya, RED, 3.6)
cells(endo2_2m + endo2_26m, xa, ya, TEAL, 3.6)
cells(endo_red_in_teal_2m + endo_red_in_teal_26m, xa, ya, RED, 3.6)
txt(115.7, 375.3, "Endothelial 1")
txt(145, 470, "Endothelial 2")
txt(116.7, 504, "UMAP_1")
txt(23, 414, "UMAP_2", rot=-90)
key(178, [413.3, 422], endo_groups, [RED, TEAL], "circle", 4.5, 9.5)

# Panel F
dotplot(349.3, 485.7, [-0.7, 1.6], endo_genes, endo_groups, endo1_pct, endo2_pct, endo1_avg, endo2_avg, 0.087, 421, 35, 732, -0.73, 0.65)
txt(519, 517, "Features", 9.5)
txt(256, 412, "Identity", 9.5, rot=-90)
txt(746.7, 373.7, "Percent Expressed", 9.5)
txt(748, 413.7, "Average Expression", 9.5)
key(731.3, [385.7, 394, 402.3], size_legend_endo, "#000000", "circle", [s * 0.087 for s in size_legend_endo], 9.5, pad=" ")

# Panel G
frame(46.7, 528.3, 511.7, 673.3)
xa, ya = new_axes(60, 230, 530, 672, hidden([-9.73, 10.27]), hidden([-10.59, 6.12]))
cells(endo1_2m + endo_red_in_teal_2m, xa, ya, RED, 3.2)
cells(endo2_2m, xa, ya, TEAL, 3.2)
xa, ya = new_axes(270, 430, 530, 672, hidden([-10.06, 8.76]), hidden([-10.59, 6.12]))
cells(endo1_26m, xa, ya, RED, 3.2)
cells(endo2_26m, xa, ya, TEAL, 3.2)
cells(endo_red_in_teal_26m, xa, ya, RED, 3.2)
txt(129.7, 536.7, "2M", 9)
txt(360, 536.7, "26M", 9)
txt(142.3, 563.3, "Endothelial 1")
txt(177.3, 645.7, "Endothelial 2")
txt(363.7, 565, "Endothelial 1")
txt(408.7, 641.7, "Endothelial 2")
arrows(68.3, 655, 100, 622.7)
arrows(272.3, 655, 304, 622.7)
txt(85.7, 665.7, "UMAP_1")
txt(56, 638.3, "UMAP_2", rot=-90)
txt(288.7, 665.7, "UMAP_1")
txt(261.7, 638, "UMAP_2", rot=-90)
key(444.3, [594.7, 605.3], endo_groups, [RED, TEAL], "circle", 4.5, 9.5)

# Panel H
bars(601, 651.7, 523.7, 673.3, endo_bar_labels, endo_young, endo_old, [606, 646.7], 681.3)
txt(572, 602, "Cell proportion (%)", 9.8, rot=-90)
key(662.7, [594.3, 603], ["Young", "Old"], [GREY_BAR, RED_BAR], "square", 7, 10)

# Panel letters
for letter, lx, ly in (("A", 7, 7.5), ("B", 276, 7.5), ("C", 6.5, 179.3), ("D", 559, 176),
                       ("E", 7, 347.7), ("F", 281.7, 347), ("G", 8, 520), ("H", 559.3, 522)):
    txt(lx, ly, letter, 16.5, color="#222222")

fig.update_layout(width=W, height=H, margin=dict(l=0, r=0, t=0, b=0, pad=0, autoexpand=False), autosize=False, barmode="stack", bargap=0.21,
                  plot_bgcolor="white", paper_bgcolor="white", font=dict(family=FONT, color=INK),
                  annotations=annots, shapes=shapes, showlegend=False, **layout)
fig.write_html("out.html", config={"displayModeBar": False},
               post_script="document.documentElement.style.margin='0';document.body.style.margin='0';document.body.style.padding='0';")
